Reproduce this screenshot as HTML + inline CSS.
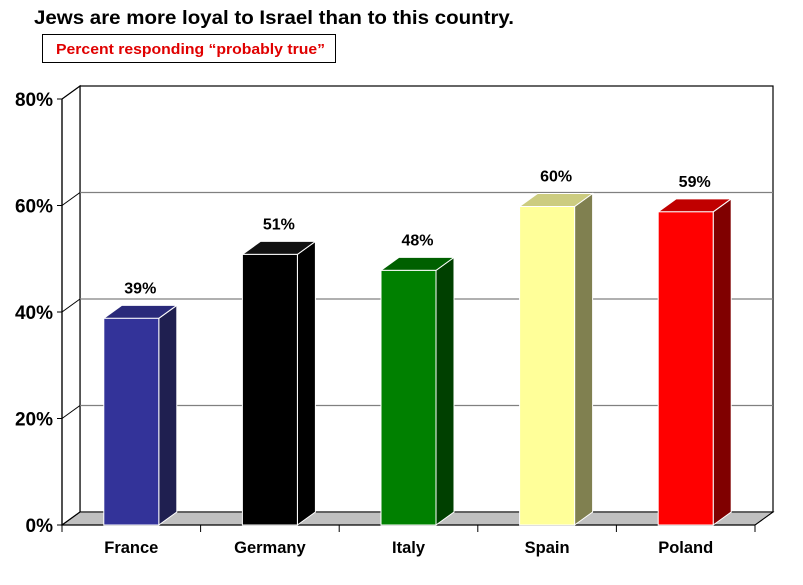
<!DOCTYPE html>
<html><head><meta charset="utf-8"><style>
body{margin:0;background:#fff;width:803px;height:580px;overflow:hidden;font-family:"Liberation Sans",Arial,sans-serif}
</style></head><body>
<svg width="803" height="580">
<text x="34" y="24" font-size="19" font-weight="bold" fill="#000" textLength="480" lengthAdjust="spacingAndGlyphs">Jews are more loyal to Israel than to this country.</text>
<rect x="42.5" y="34.5" width="293" height="28" fill="#fff" stroke="#000"/>
<text x="56" y="54" font-size="15" font-weight="bold" fill="#e00000" textLength="269" lengthAdjust="spacingAndGlyphs">Percent responding “probably true”</text>
<g id="plot"></g>
</svg>
<script>
const categories=["France","Germany","Italy","Spain","Poland"];
const values=[39,51,48,60,59];
const valueLabels=["39%","51%","48%","60%","59%"];
const yTicks=[0,20,40,60,80];
const fronts=["#333399","#000000","#008000","#ffff99","#ff0000"];
const sides=["#1f1f50","#000000","#004000","#808050","#800000"];
const tops=["#2a2a7a","#111111","#006000","#cccc80","#c00000"];
const NS="http://www.w3.org/2000/svg";
const g=document.getElementById('plot');
const x0=62,x1=755,y0=525,yTop=99,dx=18,dy=13,maxV=80;
const y=v=>y0-(v/maxV)*(y0-yTop);
const bw=(x1-x0)/categories.length;
function mk(t,a,p){const e=document.createElementNS(NS,t);for(const k in a)e.setAttribute(k,a[k]);(p||g).appendChild(e);return e;}
let wall=mk('rect',{x:x0+dx,y:y(80)-dy,width:x1-x0,height:y0-yTop,fill:'#fff',stroke:'#000','stroke-width':1.2});


let floor=mk('polygon',{points:`${x0},${y0} ${x0+dx},${y0-dy} ${x1+dx},${y0-dy} ${x1},${y0}`,fill:'#c0c0c0',stroke:'#000','stroke-width':1});


let side=mk('polygon',{points:`${x0},${y0} ${x0+dx},${y0-dy} ${x0+dx},${y(80)-dy} ${x0},${y(80)}`,fill:'#fff',stroke:'#000','stroke-width':1.2});


yTicks.forEach(t=>{
  if(t>0&&t<80){const l=mk('line',{x1:x0+dx,x2:x1+dx,y1:y(t)-dy,y2:y(t)-dy,stroke:'#808080','stroke-width':1.3});
  
  }
  const d=mk('line',{x1:x0,x2:x0+dx,y1:y(t),y2:y(t)-dy,stroke:'#000'});
  
  
  const tk=mk('line',{x1:x0-5,x2:x0,y1:y(t),y2:y(t),stroke:'#000'});
  
  
  const tx=mk('text',{x:x0-9,y:y(t)+7,'font-size':19,'font-weight':'bold','text-anchor':'end'});
  tx.textContent=t+'%';
  
  
});
mk('line',{x1:x0,x2:x0,y1:y(80),y2:y0,stroke:'#000','stroke-width':1.2});
mk('line',{x1:x0,x2:x1,y1:y0,y2:y0,stroke:'#000','stroke-width':1.2});
mk('line',{x1:x1,x2:x1+dx,y1:y0,y2:y0-dy,stroke:'#000'});
for(let i=0;i<=categories.length;i++){
  const tk=mk('line',{x1:x0+i*bw,x2:x0+i*bw,y1:y0,y2:y0+7,stroke:'#000'});
  
  
}
categories.forEach((c,i)=>{
  const cx=x0+bw*(i+0.5),w=55,l=cx-w/2,r=cx+w/2,t=y(values[i])+1;
  const grp=mk('g',{});
  
  
  mk('polygon',{points:`${r},${y0} ${r+dx},${y0-dy} ${r+dx},${t-dy} ${r},${t}`,fill:sides[i],stroke:'#fff','stroke-width':1},grp);
  mk('polygon',{points:`${l},${t} ${l+dx},${t-dy} ${r+dx},${t-dy} ${r},${t}`,fill:tops[i],stroke:'#fff','stroke-width':1},grp);
  mk('rect',{x:l,y:t,width:w,height:y0-t,fill:fronts[i],stroke:'#fff','stroke-width':1},grp);
  const vl=mk('text',{x:cx+dx/2,y:t-dy-12,'font-size':16,'font-weight':'bold','text-anchor':'middle'});
  vl.textContent=valueLabels[i];
  
  
  const cl=mk('text',{x:cx,y:553,'font-size':16.5,'font-weight':'bold','text-anchor':'middle'});
  cl.textContent=c;
  
  
});
</script>
</body></html>
